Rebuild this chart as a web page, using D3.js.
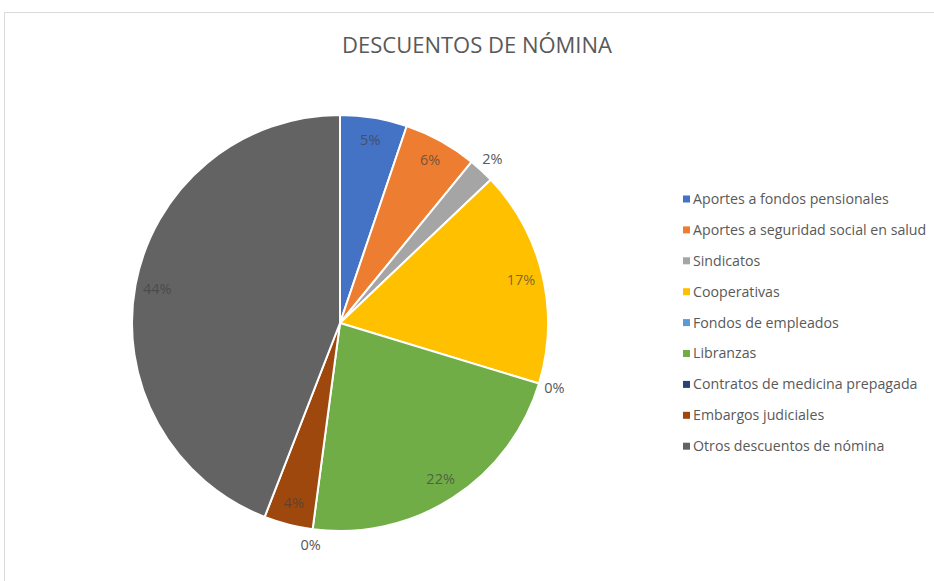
<!DOCTYPE html>
<html>
<head>
<meta charset="utf-8">
<script src="https://cdn.jsdelivr.net/npm/d3@7"></script>
<style>
  html, body { margin: 0; padding: 0; background: #fff; }
  svg { display: block; font-family: "Open Sans", sans-serif; }
</style>
</head>
<body>
<svg id="chart" width="934" height="581"></svg>
<script>
// Payroll deduction shares (percent of total)
const categories = [
  "Aportes a fondos pensionales",
  "Aportes a seguridad social en salud",
  "Sindicatos",
  "Cooperativas",
  "Fondos de empleados",
  "Libranzas",
  "Contratos de medicina prepagada",
  "Embargos judiciales",
  "Otros descuentos de nómina"
];
const shares = [5.2, 5.7, 2.0, 16.8, 0.0, 22.4, 0.0, 3.8, 44.1];
const colors = ["#4472C4", "#ED7D31", "#A5A5A5", "#FFC000", "#5B9BD5",
                "#70AD47", "#264478", "#9E480E", "#636363"];
const title = "DESCUENTOS DE NÓMINA";

const svg = d3.select("#chart");

// chart frame
svg.append("rect")
  .attr("x", 4.5).attr("y", 12.5)
  .attr("width", 940).attr("height", 600)
  .attr("fill", "#fff").attr("stroke", "#d9d9d9");

svg.append("text")
  .attr("x", 477).attr("y", 53)
  .attr("text-anchor", "middle")
  .attr("font-size", 22)
  .attr("fill", "#595959")
  .text(title);

const cx = 340, cy = 323, R = 208;
const data = categories.map((c, i) => ({ name: c, value: shares[i], color: colors[i] }));

const pie = d3.pie().value(d => d.value).sort(null);
const arcs = pie(data);
const arc = d3.arc().innerRadius(0).outerRadius(R);

const g = svg.append("g").attr("transform", `translate(${cx},${cy})`);

g.selectAll("path.slice")
  .data(arcs.filter(a => a.data.value > 0))
  .join("path")
  .attr("class", "slice")
  .attr("d", arc)
  .attr("fill", d => d.data.color)
  .attr("stroke", "#fff")
  .attr("stroke-width", 2)
  .attr("stroke-linejoin", "round");

// labels: inside for larger slices, outside for thin ones
const insideArc = d3.arc().innerRadius(186).outerRadius(186);
const outsideArc = d3.arc().innerRadius(224).outerRadius(224);

g.selectAll("text.lbl")
  .data(arcs)
  .join("text")
  .attr("class", "lbl")
  .attr("transform", d => {
    const a = d.data.value >= 3 ? insideArc : outsideArc;
    const [x, y] = a.centroid(d);
    return `translate(${x},${y})`;
  })
  .attr("text-anchor", "middle")
  .attr("dy", "0.35em")
  .attr("font-size", 14.5)
  .attr("fill", d => d.data.value >= 3 ? "#404040" : "#595959")
  .attr("fill-opacity", d => d.data.value >= 3 ? 0.7 : 1)
  .text(d => Math.round(d.data.value) + "%");

// legend
const lg = svg.append("g").attr("transform", "translate(683,199)");
const row = lg.selectAll("g").data(data).join("g")
  .attr("transform", (d, i) => `translate(0,${i * 30.9})`);
row.append("rect")
  .attr("x", 0).attr("y", -3.5).attr("width", 7).attr("height", 7)
  .attr("fill", d => d.color);
row.append("text")
  .attr("x", 10).attr("dy", "0.35em")
  .attr("font-size", 14.2)
  .attr("fill", "#595959")
  .text(d => d.name);
</script>
</body>
</html>
